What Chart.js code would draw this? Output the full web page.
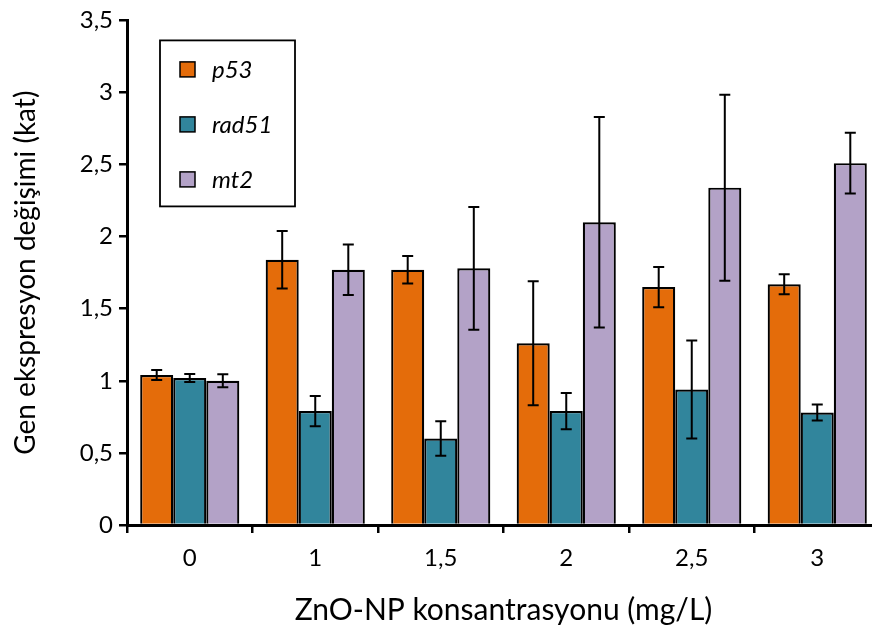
<!DOCTYPE html>
<html>
<head>
<meta charset="utf-8">
<script src="https://cdn.jsdelivr.net/npm/chart.js@4/dist/chart.umd.min.js"></script>
<style>
  html, body { margin: 0; padding: 0; background: #fff; overflow: hidden; }
  #wrap { width: 880px; height: 630px; }
</style>
</head>
<body>
<div id="wrap"><canvas id="chart" width="880" height="630"></canvas></div>
<script>
// Data
const categories = ['0', '1', '1,5', '2', '2,5', '3'];
const seriesNames = ['p53', 'rad51', 'mt2'];
const p53 = [1.04, 1.84, 1.77, 1.26, 1.65, 1.67];
const rad51 = [1.02, 0.79, 0.60, 0.79, 0.94, 0.78];
const mt2 = [1.00, 1.77, 1.78, 2.10, 2.34, 2.51];
// error bar half-lengths
const p53Err = [0.035, 0.20, 0.095, 0.43, 0.14, 0.07];
const rad51Err = [0.028, 0.105, 0.12, 0.125, 0.34, 0.055];
const mt2Err = [0.045, 0.175, 0.425, 0.73, 0.645, 0.21];
const yTicks = [0, 0.5, 1, 1.5, 2, 2.5, 3, 3.5];

const colors = ['#E46C0A', '#31859C', '#B3A2C7'];
const FONT = 'Lato';

// Error bars drawn from the bar elements and the y scale
const errorBars = {
    id: 'errorBars',
    afterDatasetsDraw(chart) {
        const ctx = chart.ctx;
        const y = chart.scales.y;
        ctx.save();
        ctx.strokeStyle = '#000';
        ctx.lineWidth = 2;
        chart.data.datasets.forEach((ds, di) => {
            const meta = chart.getDatasetMeta(di);
            meta.data.forEach((bar, i) => {
                const v = ds.data[i];
                const e = ds.errors[i];
                const top = y.getPixelForValue(v + e);
                const bot = y.getPixelForValue(v - e);
                const cap = 5.5;
                ctx.beginPath();
                ctx.moveTo(bar.x, top);
                ctx.lineTo(bar.x, bot);
                ctx.moveTo(bar.x - cap, top);
                ctx.lineTo(bar.x + cap, top);
                ctx.moveTo(bar.x - cap, bot);
                ctx.lineTo(bar.x + cap, bot);
                ctx.stroke();
            });
        });
        ctx.restore();
    }
};

// Boxed legend inside the plot area
const boxLegend = {
    id: 'boxLegend',
    afterDraw(chart) {
        const ctx = chart.ctx;
        const a = chart.chartArea;
        const left = a.left + 33, top = a.top + 20;
        const w = 135, h = 166;
        ctx.save();
        ctx.strokeStyle = '#000';
        ctx.lineWidth = 1.8;
        ctx.fillStyle = '#fff';
        ctx.fillRect(left, top, w, h);
        ctx.strokeRect(left, top, w, h);
        ctx.font = 'italic 24px ' + FONT;
        ctx.textBaseline = 'middle';
        chart.data.datasets.forEach((ds, i) => {
            const cy = top + 29 + i * 55;
            ctx.fillStyle = ds.backgroundColor;
            ctx.fillRect(left + 20, cy - 7.5, 15, 15);
            ctx.lineWidth = 1.5;
            ctx.strokeRect(left + 20, cy - 7.5, 15, 15);
            ctx.fillStyle = '#000';
            ctx.fillText(ds.label, left + 52, cy + 1);
        });
        ctx.restore();
    }
};

const values = [p53, rad51, mt2];
const errs = [p53Err, rad51Err, mt2Err];

new Chart(document.getElementById('chart').getContext('2d'), {
    type: 'bar',
    data: {
        labels: categories,
        datasets: seriesNames.map((name, i) => ({
            label: name,
            data: values[i],
            errors: errs[i],
            backgroundColor: colors[i],
            borderColor: '#000',
            borderWidth: 2.2,
            borderSkipped: 'bottom',
            categoryPercentage: 0.79,
            barPercentage: 1.0
        }))
    },
    options: {
        responsive: false,
        animation: false,
        layout: { padding: { top: 17, right: 0, left: 0, bottom: 0 } },
        plugins: {
            legend: { display: false },
            tooltip: { enabled: false }
        },
        scales: {
            x: {
                grid: {
                    display: true,
                    offset: true,
                    drawOnChartArea: false,
                    drawTicks: true,
                    tickLength: 8,
                    color: '#000',
                    lineWidth: 2.5
                },
                border: { display: true, color: '#000', width: 3 },
                ticks: {
                    color: '#000',
                    font: { family: FONT, size: 24 },
                    padding: 11
                },
                title: {
                    display: true,
                    text: 'ZnO-NP konsantrasyonu (mg/L)',
                    color: '#000',
                    font: { family: FONT, size: 30 },
                    padding: { top: 0, bottom: 2 }
                },
                afterFit(scale) { scale.height = 105; }
            },
            y: {
                min: 0,
                max: 3.5,
                afterBuildTicks(scale) {
                    scale.ticks = yTicks.map(v => ({ value: v }));
                },
                grid: {
                    display: true,
                    drawOnChartArea: false,
                    drawTicks: true,
                    tickLength: 8,
                    color: '#000',
                    lineWidth: 2.5
                },
                border: { display: true, color: '#000', width: 3 },
                ticks: {
                    color: '#000',
                    font: { family: FONT, size: 24 },
                    padding: 6,
                    callback: v => String(v).replace('.', ',')
                },
                title: {
                    display: true,
                    text: 'Gen ekspresyon değişimi (kat)',
                    color: '#000',
                    font: { family: FONT, size: 28 },
                    padding: { top: 9, bottom: 0 }
                },
                afterFit(scale) { scale.width = 127; }
            }
        }
    },
    plugins: [errorBars, boxLegend]
});
</script>
</body>
</html>
